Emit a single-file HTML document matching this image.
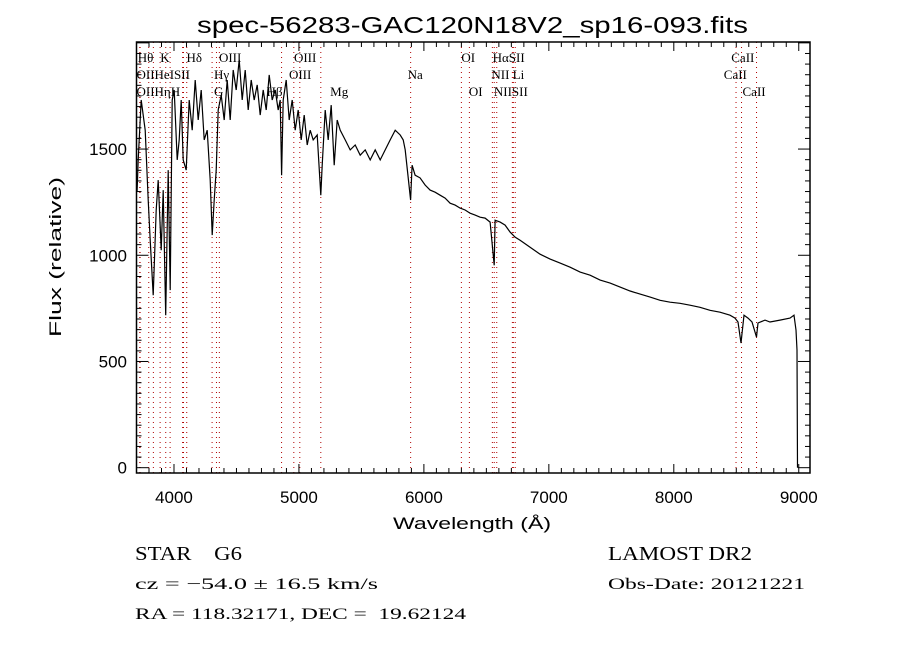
<!DOCTYPE html>
<html><head><meta charset="utf-8"><style>
body{margin:0;background:#fff;}
svg text{font-family:"Liberation Sans",sans-serif;}
.lab{font-family:"Liberation Serif",serif;font-size:13px;fill:#000;}
.info{font-family:"Liberation Serif",serif;fill:#000;white-space:pre;}
</style></head><body>
<svg id="chart" width="900" height="650" viewBox="0 0 900 650" xmlns="http://www.w3.org/2000/svg">
<rect width="900" height="650" fill="#fff"/>
<text x="197" y="33" font-size="23" textLength="551" lengthAdjust="spacingAndGlyphs">spec-56283-GAC120N18V2_sp16-093.fits</text>
<g id="lines"></g>
<g id="labels"></g>
<path id="spec" fill="none" stroke="#000" stroke-width="1.2"/>
<rect x="136.5" y="42" width="673.5" height="431" fill="none" stroke="#000" stroke-width="1.5"/>
<g id="ticks"></g>
<text x="393" y="529" font-size="17" textLength="158" lengthAdjust="spacingAndGlyphs">Wavelength (Å)</text>
<text transform="translate(61,337) rotate(-90)" font-size="17" textLength="160" lengthAdjust="spacingAndGlyphs">Flux (relative)</text>
<text class="info" x="135" y="560" font-size="20" textLength="107" lengthAdjust="spacingAndGlyphs">STAR    G6</text>
<text class="info" x="135" y="589" font-size="16" textLength="243" lengthAdjust="spacingAndGlyphs">cz = −54.0 ± 16.5 km/s</text>
<text class="info" x="135" y="619" font-size="16" textLength="331" lengthAdjust="spacingAndGlyphs">RA = 118.32171, DEC =  19.62124</text>
<text class="info" x="608" y="560" font-size="20" textLength="144" lengthAdjust="spacingAndGlyphs">LAMOST DR2</text>
<text class="info" x="608" y="589" font-size="16" textLength="197" lengthAdjust="spacingAndGlyphs">Obs-Date: 20121221</text>
</svg>
<script>
const waves=[3705,3714,3738,3770,3794,3810,3834,3858,3874,3898,3914,3934,3954,3970,3986,4002,4026,4042,4058,4074,4098,4122,4146,4170,4194,4218,4242,4266,4290,4306,4322,4338,4354,4378,4402,4426,4450,4474,4498,4522,4546,4570,4594,4618,4642,4666,4690,4714,4738,4762,4786,4810,4834,4850,4861,4874,4898,4922,4946,4970,4994,5018,5042,5066,5090,5114,5146,5175,5186,5210,5234,5258,5282,5306,5330,5370,5410,5450,5490,5530,5570,5610,5650,5690,5730,5770,5810,5834,5850,5894,5906,5930,5970,6010,6050,6090,6130,6170,6210,6250,6290,6330,6370,6410,6450,6490,6530,6563,6570,6610,6650,6690,6730,6770,6850,6930,7010,7090,7170,7250,7330,7410,7490,7570,7650,7730,7810,7890,7970,8050,8130,8210,8290,8370,8450,8490,8514,8538,8562,8594,8626,8662,8674,8730,8770,8850,8930,8962,8978,8986,8990];
const fluxes=[1300,1449,1731,1589,1260,1071,812,1213,1354,1024,1307,718,1401,836,1731,1778,1449,1543,1731,1449,1401,1731,1589,1825,1637,1778,1543,1589,1354,1095,1260,1401,1684,1754,1637,1825,1637,1872,1778,1920,1731,1872,1684,1825,1731,1802,1660,1778,1684,1849,1731,1778,1684,1731,1377,1731,1825,1637,1731,1589,1684,1543,1660,1519,1589,1543,1566,1283,1424,1684,1543,1707,1424,1637,1589,1543,1496,1519,1471,1496,1449,1496,1449,1496,1543,1589,1566,1543,1496,1260,1424,1377,1364,1331,1307,1297,1283,1269,1245,1236,1222,1213,1198,1189,1179,1175,1156,953,1165,1156,1142,1109,1085,1071,1038,1005,982,963,944,921,906,883,869,850,832,817,803,788,779,774,765,755,741,732,718,704,686,587,718,704,686,615,681,695,686,695,704,718,648,554,0];
const xTicks=[4000,5000,6000,7000,8000,9000];
const yTicks=[0,500,1000,1500];
const lineWaves=[3726,3729,3798,3835,3889,3934,3969,4069,4076,4102,4305,4340,4363,4861,4959,5007,5175,5894,6300,6364,6548,6563,6583,6708,6716,6731,8498,8542,8662];
const X0=3700,X1=9090,Y0=-25,Y1=2004,L=136.5,R=810,T=42,B=473;
const sx=w=>L+(w-X0)/(X1-X0)*(R-L);
const sy=f=>B-(f-Y0)/(Y1-Y0)*(B-T);
const NS="http://www.w3.org/2000/svg";
function mk(tag,attrs,parent){const e=document.createElementNS(NS,tag);for(const k in attrs)e.setAttribute(k,attrs[k]);parent.appendChild(e);return e;}
const lg=document.getElementById('lines');
lineWaves.forEach(w=>{const l=mk('line',{x1:sx(w),x2:sx(w),y1:T,y2:B,stroke:'#b00000','stroke-width':1,'stroke-dasharray':'1,4'},lg);

});
let d='';waves.forEach((w,i)=>{d+=(i?'L':'M')+sx(w).toFixed(1)+','+sy(fluxes[i]).toFixed(1);});
document.getElementById('spec').setAttribute('d',d);
const tg=document.getElementById('ticks');
for(let w=3700;w<=9090;w+=100){const x=sx(w),len=(w%1000===0)?9:5;
mk('line',{x1:x,x2:x,y1:B,y2:B-len,stroke:'#000'},tg);mk('line',{x1:x,x2:x,y1:T,y2:T+len,stroke:'#000'},tg);}
for(let f=0;f<=2000;f+=50){const y=sy(f),len=(f%500===0)?12:5;
mk('line',{x1:L,x2:L+len,y1:y,y2:y,stroke:'#000'},tg);mk('line',{x1:R,x2:R-len,y1:y,y2:y,stroke:'#000'},tg);}
xTicks.forEach(w=>{const t=mk('text',{x:sx(w),y:B+30,'text-anchor':'middle','font-size':17},tg);t.textContent=w;

});
yTicks.forEach(f=>{const t=mk('text',{x:127,y:sy(f)+6,'text-anchor':'end','font-size':17},tg);t.textContent=f;

});
const labelTexts=['Hθ','K','Hδ','OIII','OIII','OI','HαSII','CaII','OIIHeISII','Hγ','OIII','Na','NII Li','CaII','OIIHηH','G','Hβ','Mg','OI','NIISII','CaII'];
const labelWaves=[3710,3890,4100,4360,4960,6300,6550,8460,3700,4320,4920,5870,6540,8400,3700,4320,4740,5250,6360,6560,8550];
const labelRows=[0,0,0,0,0,0,0,0,1,1,1,1,1,1,2,2,2,2,2,2,2];
const lb=document.getElementById('labels');
labelTexts.forEach((s,i)=>{const t=mk('text',{x:sx(labelWaves[i]),y:62+labelRows[i]*17,class:'lab'},lb);t.textContent=s;

});
</script>
</body></html>
